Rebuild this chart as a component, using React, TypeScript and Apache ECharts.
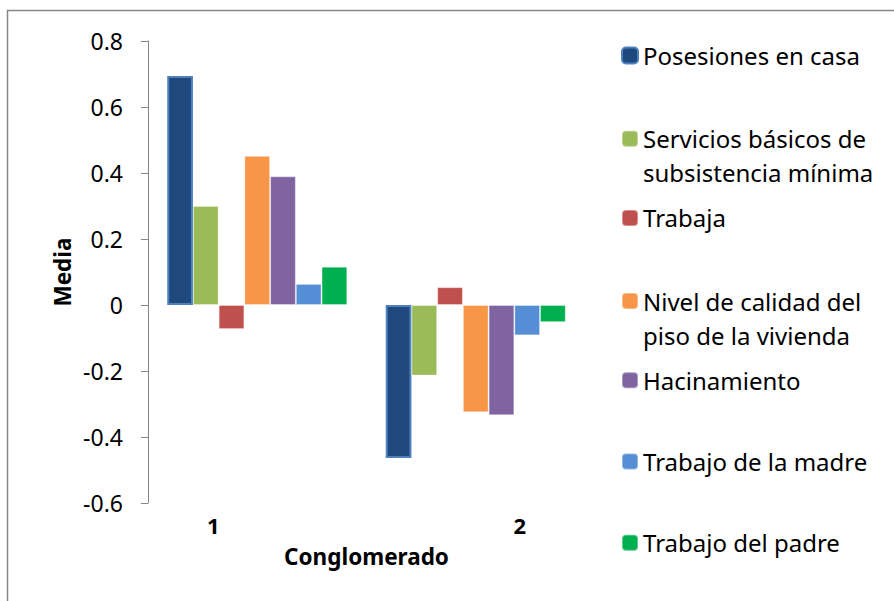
import React, { useEffect, useRef } from "react";
import * as echarts from "echarts";

const categories = ["1", "2"];
const seriesNames = [
  "Posesiones en casa",
  "Servicios básicos de\nsubsistencia mínima",
  "Trabaja",
  "Nivel de calidad del\npiso de la vivienda",
  "Hacinamiento",
  "Trabajo de la madre",
  "Trabajo del padre",
];
const posesiones = [0.694, -0.464];
const servicios = [0.3, -0.214];
const trabaja = [-0.073, 0.054];
const nivel = [0.452, -0.325];
const hacinamiento = [0.39, -0.334];
const madre = [0.064, -0.092];
const padre = [0.116, -0.052];
const seriesValues = [posesiones, servicios, trabaja, nivel, hacinamiento, madre, padre];
const colors = ["#1F497D", "#9BBB59", "#C0504D", "#F79646", "#8064A2", "#558ED5", "#00B050"];
const yTicks = { min: -0.6, max: 0.8, interval: 0.2 };

const FONT = "Noto Sans";

export default function App() {
  const ref = useRef<HTMLDivElement>(null);
  useEffect(() => {
    if (!ref.current) return;
    const chart = echarts.init(ref.current, null, { renderer: "svg" });
    const legendCenters = seriesNames.map((_, i) => 55.5 + i * 81.2);
    const LH = 34;
    const legends = seriesNames.map((name, i) => {
      const twoLine = name.includes("\n");
      return {
        orient: "vertical",
        left: 621,
        top: twoLine ? legendCenters[i] - (LH * 3) / 2 + 2 : legendCenters[i] - LH / 2,
        padding: 0,
        itemWidth: 16,
        itemHeight: 16,
        data: [name],
        formatter: (n: string) => (n.includes("\n") ? " \n" + n : n),
        textStyle: {
          fontFamily: FONT,
          fontSize: 24,
          lineHeight: LH,
          color: "#000",
        },
      };
    });
    chart.setOption({
      animation: false,
      color: colors,
      textStyle: { fontFamily: FONT },
      graphic: [
        {
          type: "rect",
          shape: { x: 7.5, y: 10.5, width: 1000, height: 1000 },
          style: { fill: "none", stroke: "#868686", lineWidth: 1.5 },
          silent: true,
        },
      ],
      grid: { left: 148, right: 309, top: 41, bottom: 98, containLabel: false },
      legend: legends,
      xAxis: {
        type: "category",
        data: categories,
        axisLine: { show: false },
        axisTick: { show: false },
        axisLabel: {
          margin: 11,
          formatter: (v: string) => (v === "1" ? "{l|" + v + "}" : "{r|" + v + "}"),
          rich: {
            l: { fontFamily: FONT, fontSize: 22, fontWeight: "bold", color: "#000", padding: [0, 88, 0, 0] },
            r: { fontFamily: FONT, fontSize: 22, fontWeight: "bold", color: "#000", padding: [0, 0, 0, 88] },
          },
        },
        name: "Conglomerado",
        nameLocation: "middle",
        nameGap: 42,
        nameTextStyle: { fontFamily: FONT, fontSize: 22.5, fontWeight: "bold", color: "#000" },
      },
      yAxis: {
        type: "value",
        min: yTicks.min,
        max: yTicks.max,
        interval: yTicks.interval,
        splitLine: { show: false },
        axisLine: { show: true, lineStyle: { color: "#868686", width: 1 } },
        axisTick: { show: true, length: 7, lineStyle: { color: "#868686" } },
        axisLabel: {
          margin: 25,
          fontFamily: FONT,
          fontSize: 23,
          color: "#000",
          formatter: (v: number) => String(Math.round(v * 10) / 10),
        },
        name: "Media",
        nameLocation: "middle",
        nameGap: 74,
        nameTextStyle: { fontFamily: FONT, fontSize: 22.5, fontWeight: "bold", color: "#000" },
      },
      series: seriesNames.map((name, i) => ({
        name,
        type: "bar",
        data: seriesValues[i],
        barGap: "0%",
        barCategoryGap: "17.6%",
        itemStyle:
          i === 0
            ? { color: colors[i], borderColor: "#4F81BD", borderWidth: 2 }
            : { color: colors[i], borderColor: "rgba(255,255,255,0.35)", borderWidth: 1 },
      })),
    });
    return () => chart.dispose();
  }, []);
  return (
    <div
      ref={ref}
      style={{ position: "absolute", left: 0, top: 0, width: 894, height: 601, background: "#fff" }}
    />
  );
}
